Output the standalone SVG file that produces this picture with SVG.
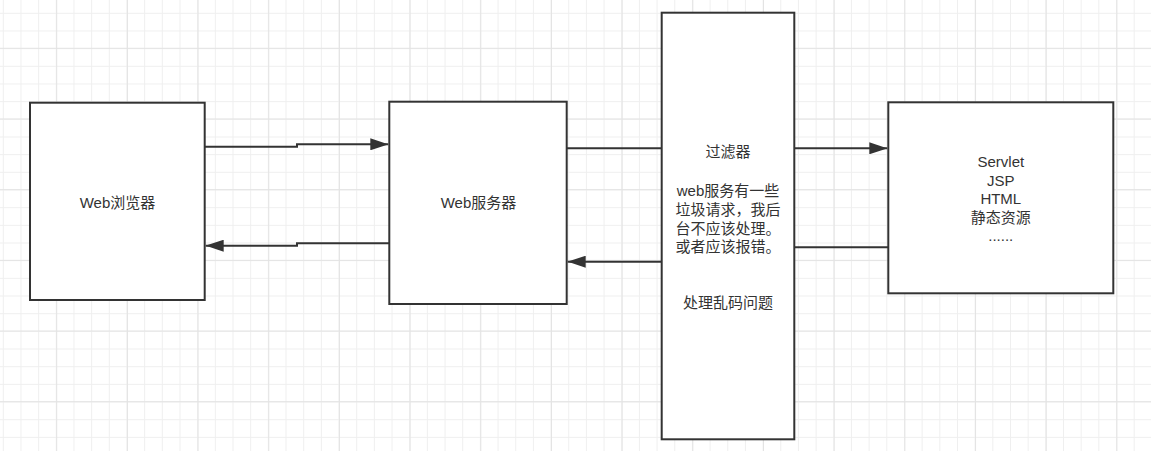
<svg xmlns="http://www.w3.org/2000/svg" width="1151" height="451" viewBox="0 0 1151 451">
  <defs>
    <pattern id="minor" patternUnits="userSpaceOnUse" x="2.8" y="12.8" width="17.67" height="17.67">
      <path d="M0.5 0 V17.67 M0 0.5 H17.67" stroke="#efefef" stroke-width="1" fill="none"/>
    </pattern>
    <pattern id="major" patternUnits="userSpaceOnUse" x="56.2" y="47.8" width="70.68" height="70.68">
      <path d="M0.5 0 V70.68 M0 0.5 H70.68" stroke="#e3e3e3" stroke-width="1" fill="none"/>
    </pattern>
    <marker id="arrow" markerUnits="userSpaceOnUse" markerWidth="18" markerHeight="12" refX="18" refY="6" orient="auto" viewBox="0 0 18 12">
      <path d="M0 0 L18 6 L0 12 Z" fill="#333"/>
    </marker>
  </defs>
  <style>
    .node { fill: #fff; stroke: #333; stroke-width: 2; }
    .edge { fill: none; stroke: #333; stroke-width: 2; }
    .label { font-family: "Liberation Sans", "Noto Sans CJK SC", sans-serif; font-size: 15px; fill: #333; text-anchor: middle; }
  </style>
  <rect width="1151" height="451" fill="#fff"/>
  <rect width="1151" height="451" fill="url(#minor)"/>
  <rect width="1151" height="451" fill="url(#major)"/>

  <g id="connectors">
    <path class="edge" d="M204.7 146.7 H297 V144.3 H388.3" marker-end="url(#arrow)"/>
    <path class="edge" d="M389.3 243.3 H297 V245.7 H205.7" marker-end="url(#arrow)"/>
    <path class="edge" d="M661.7 148.3 H566.7"/>
    <path class="edge" d="M661.7 261.7 H567.7" marker-end="url(#arrow)"/>
    <path class="edge" d="M794.3 148.3 H887.3" marker-end="url(#arrow)"/>
    <path class="edge" d="M888.3 247.3 H794.3"/>
  </g>

  <g id="browser">
    <rect class="node" x="30" y="102.7" width="174.7" height="197.3"/>
    <text class="label" x="117.5" y="207.5">Web浏览器</text>
  </g>

  <g id="server">
    <rect class="node" x="389.3" y="101.7" width="177.4" height="202.3"/>
    <text class="label" x="478.5" y="207.5">Web服务器</text>
  </g>

  <g id="filter">
    <rect class="node" x="661.7" y="12.7" width="132.6" height="426.6"/>
    <text class="label" x="728" y="157">过滤器</text>
    <text class="label" x="728" y="196.2">web服务有一些</text>
    <text class="label" x="728" y="214.9">垃圾请求，我后</text>
    <text class="label" x="728" y="233.6">台不应该处理。</text>
    <text class="label" x="728" y="252.3">或者应该报错。</text>
    <text class="label" x="728" y="308">处理乱码问题</text>
  </g>

  <g id="resources">
    <rect class="node" x="888.3" y="102.3" width="225" height="191"/>
    <text class="label" x="1000.8" y="167">Servlet</text>
    <text class="label" x="1000.8" y="185.5">JSP</text>
    <text class="label" x="1000.8" y="204">HTML</text>
    <text class="label" x="1000.8" y="222.5">静态资源</text>
    <text class="label" x="1000.8" y="241.2">......</text>
  </g>
</svg>
